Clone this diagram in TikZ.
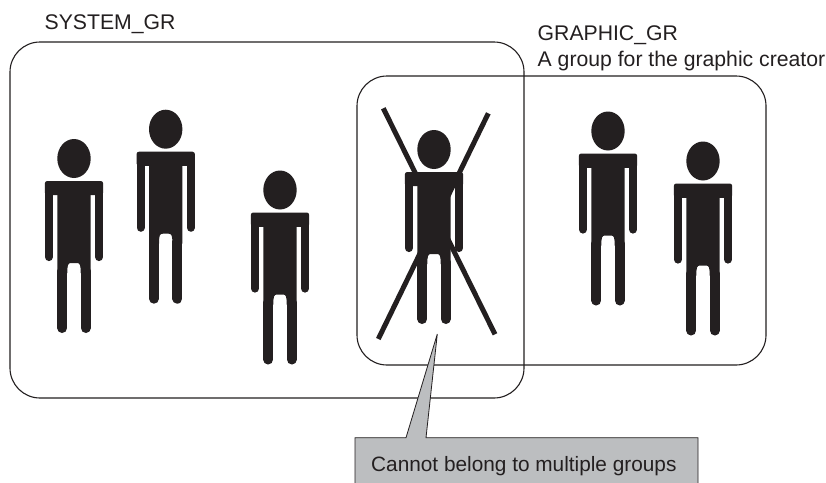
\documentclass[tikz,border=0pt]{standalone}
\usepackage{fontspec}
\setmainfont{Liberation Sans}
\definecolor{ink}{HTML}{231F20}
\definecolor{calloutgray}{HTML}{BCBEC0}
\tikzset{
  x=1pt,y=-1pt,
  group/.style={draw=ink,line width=1.1pt,rounded corners=30pt},
  label/.style={anchor=base west,inner sep=0pt,font=\fontsize{21.2}{24}\selectfont,text=ink},
  crossline/.style={draw=ink,line width=5pt},
  person/.pic={
    \fill[ink] (0,-22.5) ellipse [x radius=16.7,y radius=19.5];
    \fill[ink,rounded corners=2.5pt] (-29.2,0) rectangle (29.2,14);
    \fill[ink] (-29.2,8) rectangle (29.2,14);
    \draw[ink,line width=8.2pt,line cap=round] (-25.1,8) -- (-25.1,76);
    \draw[ink,line width=8.2pt,line cap=round] (25.1,8) -- (25.1,76);
    \fill[ink] (-16.7,5) -- (16.7,5) -- (16.7,92) -- (6.7,92)
      .. controls (6.7,84) and (6,82) .. (3,82) -- (-3,82)
      .. controls (-6,82) and (-6.7,84) .. (-6.7,92) -- (-16.7,92) -- cycle;
    \draw[ink,line width=10pt,line cap=round] (-11.7,90) -- (-11.7,147);
    \draw[ink,line width=10pt,line cap=round] (11.7,90) -- (11.7,147);
  }
}
\begin{document}
\begin{tikzpicture}
\useasboundingbox (0,0) rectangle (826,482);
\fill[white] (0,0) rectangle (826,482);
\draw[group] (10,42) rectangle (524,398);
\draw[group] (357,76) rectangle (766,365);
\pic at (74,181) {person};
\pic at (165.7,151.7) {person};
\pic at (280,212.5) {person};
\draw[crossline] (383.3,108.3) -- (495,334.3);
\draw[crossline] (488.3,113.3) -- (378.3,339);
\pic at (434,172) {person};
\pic at (608,153.5) {person};
\pic at (703,183.5) {person};
\node[label] (systemgr) at (44.5,29) {SYSTEM\_GR};
\node[label] (graphicgr) at (537.5,40.5) {GRAPHIC\_GR};
\node[label] (graphicnote) at (537.5,66) {A group for the graphic creator};
\draw[draw=ink,line width=0.8pt,fill=calloutgray,line join=miter]
  (355,490) -- (355,437.7) -- (406,437.7) -- (437.3,334) -- (426,437.7) -- (698,437.7) -- (698,490) -- cycle;
\node[label,font=\fontsize{20.8}{24}\selectfont] (callouttext) at (371,471) {Cannot belong to multiple groups};
\end{tikzpicture}
\end{document}
